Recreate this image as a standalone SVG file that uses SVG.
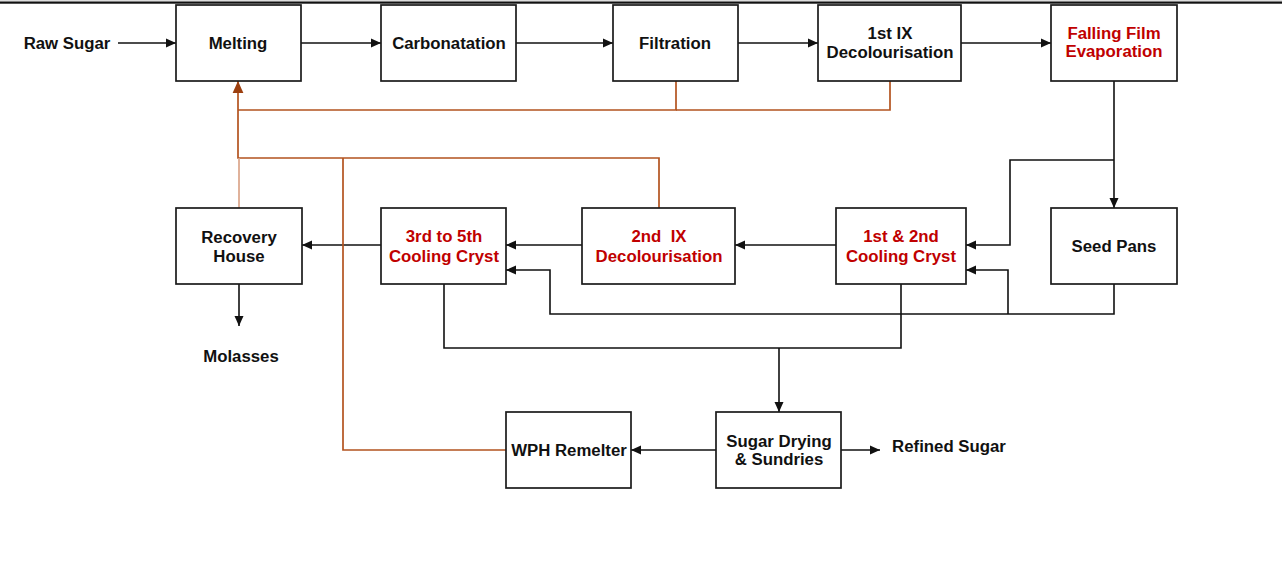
<svg xmlns="http://www.w3.org/2000/svg" width="1282" height="561" viewBox="0 0 1282 561">
<defs>
<style>
.box{fill:#fff;stroke:#1a1a1a;stroke-width:1.7}
.t{font-family:"Liberation Sans",Arial,sans-serif;font-weight:bold;font-size:16.8px;fill:#111;text-anchor:middle}
.r{fill:#c00000}
.c{fill:none;stroke:#111;stroke-width:1.6}
.b{fill:none;stroke:#b3531f;stroke-width:1.7}
.bl{fill:none;stroke:#dba58a;stroke-width:1.7}
</style>
<marker id="a" markerUnits="userSpaceOnUse" markerWidth="10" markerHeight="10" viewBox="0 0 10 10" refX="10" refY="5" orient="auto">
<path d="M0,0.5 L10,5 L0,9.5 Z" fill="#111"/>
</marker>
<marker id="ab" markerUnits="userSpaceOnUse" markerWidth="12" markerHeight="12" viewBox="0 0 10 10" refX="10" refY="5" orient="auto">
<path d="M0,0.5 L10,5 L0,9.5 Z" fill="#9c3f0f"/>
</marker>
</defs>
<rect x="0" y="0" width="1282" height="561" fill="#fff"/>
<rect x="0" y="0" width="1282" height="1.5" fill="#ddd"/>
<rect x="0" y="1.5" width="1282" height="2.2" fill="#111"/>

<g id="connectors">
<path class="c" d="M118,43 H176" marker-end="url(#a)"/>
<path class="c" d="M301,43 H381" marker-end="url(#a)"/>
<path class="c" d="M516,43 H613" marker-end="url(#a)"/>
<path class="c" d="M738,43 H818" marker-end="url(#a)"/>
<path class="c" d="M961,43 H1051" marker-end="url(#a)"/>
<path class="c" d="M1114,81 V208" marker-end="url(#a)"/>
<path class="c" d="M1114,160 H1010 V245 H966" marker-end="url(#a)"/>
<path class="c" d="M1114,284 V314 H550 V270 H506" marker-end="url(#a)"/>
<path class="c" d="M1008,314 V270 H966" marker-end="url(#a)"/>
<path class="c" d="M836,245 H735" marker-end="url(#a)"/>
<path class="c" d="M582,245 H506" marker-end="url(#a)"/>
<path class="c" d="M381,245 H302" marker-end="url(#a)"/>
<path class="c" d="M239,284 V326" marker-end="url(#a)"/>
<path class="c" d="M444,284 V348 H901 V284"/>
<path class="c" d="M779,348 V412" marker-end="url(#a)"/>
<path class="c" d="M716,450 H631" marker-end="url(#a)"/>
<path class="c" d="M841,450 H880" marker-end="url(#a)"/>
<path class="b" d="M676,81 V110 H238"/>
<path class="b" d="M890,81 V110 H676"/>
<path class="b" d="M659,208 V158 H238 V81" marker-end="url(#ab)"/>
<path class="b" d="M506,450 H343 V158"/>
<path class="bl" d="M239,208 V158"/>
</g>

<text class="t" x="67" y="49">Raw Sugar</text>
<g id="melting"><rect class="box" x="176" y="5" width="125" height="76"/><text class="t" x="238" y="49">Melting</text></g>
<g id="carbonatation"><rect class="box" x="381" y="5" width="135" height="76"/><text class="t" x="449" y="49">Carbonatation</text></g>
<g id="filtration"><rect class="box" x="613" y="5" width="125" height="76"/><text class="t" x="675" y="49">Filtration</text></g>
<g id="ix1"><rect class="box" x="818" y="5" width="143" height="76"/><text class="t" x="890" y="39">1st IX</text><text class="t" x="890" y="58">Decolourisation</text></g>
<g id="ffe"><rect class="box" x="1051" y="5" width="126" height="76"/><text class="t r" x="1114" y="39">Falling Film</text><text class="t r" x="1114" y="57">Evaporation</text></g>

<g id="recovery"><rect class="box" x="176" y="208" width="126" height="76"/><text class="t" x="239" y="243">Recovery</text><text class="t" x="239" y="262">House</text></g>
<g id="cc35"><rect class="box" x="381" y="208" width="125" height="76"/><text class="t r" x="444" y="242">3rd to 5th</text><text class="t r" x="444" y="262">Cooling Cryst</text></g>
<g id="ix2"><rect class="box" x="582" y="208" width="153" height="76"/><text class="t r" x="659" y="242" xml:space="preserve">2nd  IX</text><text class="t r" x="659" y="262">Decolourisation</text></g>
<g id="cc12"><rect class="box" x="836" y="208" width="130" height="76"/><text class="t r" x="901" y="242">1st &amp; 2nd</text><text class="t r" x="901" y="262">Cooling Cryst</text></g>
<g id="seed"><rect class="box" x="1051" y="208" width="126" height="76"/><text class="t" x="1114" y="252">Seed Pans</text></g>
<text class="t" x="241" y="362">Molasses</text>

<g id="wph"><rect class="box" x="506" y="412" width="125" height="76"/><text class="t" x="569" y="456">WPH Remelter</text></g>
<g id="drying"><rect class="box" x="716" y="412" width="125" height="76"/><text class="t" x="779" y="447">Sugar Drying</text><text class="t" x="779" y="465">&amp; Sundries</text></g>
<text class="t" x="949" y="452">Refined Sugar</text>
</svg>
